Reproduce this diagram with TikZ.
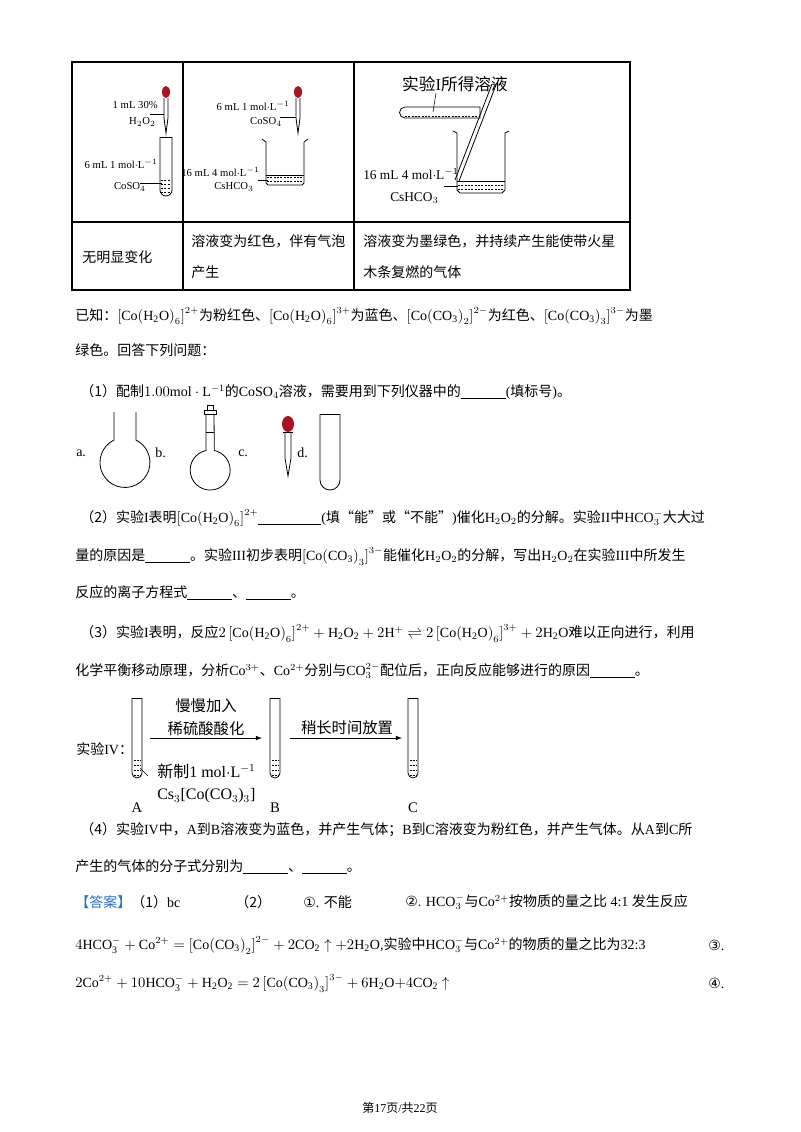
\documentclass[tikz,border=0pt]{standalone}
\usepackage{fontspec}
\setmainfont{Liberation Serif}
\newfontfamily\cjk{Noto Sans CJK SC}
\newfontfamily\dv{DejaVu Sans}
\newcommand{\zh}[1]{{\cjk #1}}
\newcommand{\cx}[2]{\left[\mathrm{Co}\!\left(\mathrm{#1}\right)_{#2}\right]}
\definecolor{bulb}{RGB}{170,20,30}
\definecolor{ans}{RGB}{40,110,200}
\begin{document}
\begin{tikzpicture}[x=0.75pt,y=-0.75pt,
  txt/.style={anchor=west,inner sep=0pt,font=\fontsize{10.5}{12}\selectfont},
  sm/.style={inner sep=0pt,font=\fontsize{8}{9}\selectfont,align=center},
  big/.style={inner sep=0pt,font=\fontsize{12}{14}\selectfont,align=left},
  glass/.style={draw,line width=0.6pt},
  liq/.style={dash pattern=on 1.5pt off 1pt,line width=0.5pt}]
\useasboundingbox (0,0) rectangle (800,1132);
\fill[white] (0,0) rectangle (800,1132);
% table
\draw[line width=0.8pt] (72,62) rectangle (630,290);
\draw[line width=0.8pt] (72,222)--(630,222) (183,62)--(183,290) (354,62)--(354,290);
% cell 1
\draw[glass] (164,98)--(164,118)--(166,133)--(168,118)--(168,98);
\fill[bulb] (166,92) ellipse (4 and 6);
\draw[glass] (160,137)--(160,190) arc (180:0:6) --(172,137);
\draw (160,137)--(172,137);
\foreach \y in {180,184,188,192} \draw[liq] (161,\y)--(171,\y);
\node[sm,anchor=east] (l1) at (158,105) {1 mL 30\%};
\node[sm,anchor=east] (l2) at (156,122) {H$_2$O$_2$};
\draw (150,114)--(164,114);
\node[sm,anchor=east] (l3) at (158,164) {6 mL 1 mol$\cdot$L$^{-1}$};
\node[sm,anchor=east] (l4) at (146,187) {CoSO$_4$};
\draw (140,183)--(162,183);
% cell 2
\draw[glass] (296,98)--(296,118)--(298,133)--(300,118)--(300,98);
\fill[bulb] (298,92) ellipse (4 and 6);
\node[sm,anchor=east] at (290,106) {6 mL 1 mol$\cdot$L$^{-1}$};
\node[sm] at (266,122) {CoSO$_4$};
\draw (280,117)--(296,117);
\draw[glass] (262,139)--(266,142)--(266,183)--(268,185)--(302,185)--(304,183)--(304,142)--(308,139);
\foreach \y in {177,181} \draw[liq] (267,\y)--(303,\y);
\draw (266,175)--(304,175);
\node[sm,anchor=east] at (260,172) {16 mL 4 mol$\cdot$L$^{-1}$};
\node[sm] at (234,187) {CsHCO$_3$};
\draw (258,180)--(268,180);
% cell 3
\node[inner sep=0pt,font=\fontsize{12.5}{14}\selectfont] at (455,84) {\zh{实验}I\zh{所得溶液}};
\draw[glass] (480,107)--(405,107) arc (-90:-270:5.5) --(480,118)--cycle;
\draw[liq] (405,116)--(478,116);
\draw (436,93)--(433,112);
\draw[glass] (453,131)--(457,133)--(457,190)--(460,193)--(502,193)--(505,190)--(505,133)--(509,131);
\draw (457,181)--(505,181);
\foreach \y in {185,189} \draw[liq] (458,\y)--(504,\y);
\draw[glass] (492,84)--(455,180) (496,85)--(459,181);
\draw (492,84)--(496,85);
\node[inner sep=0pt,anchor=west,font=\fontsize{10}{12}\selectfont] at (363,174) {16 mL 4 mol$\cdot$L$^{-1}$};
\node[inner sep=0pt,anchor=west,font=\fontsize{10}{12}\selectfont] at (390,198) {CsHCO$_3$};
\draw (444,186)--(458,186);
% row 2
\node[txt] at (82,257) {\zh{无明显变化}};
\node[txt] at (191,241) {\zh{溶液变为红色，伴有气泡}};
\node[txt] at (191,272) {\zh{产生}};
\node[txt] at (363,241) {\zh{溶液变为墨绿色，并持续产生能使带火星}};
\node[txt] at (363,272) {\zh{木条复燃的气体}};
% paragraphs
\node[txt] at (75,316) {\zh{已知：}$\cx{H_2O}{6}^{2+}$\zh{为粉红色、}$\cx{H_2O}{6}^{3+}$\zh{为蓝色、}$\cx{CO_3}{2}^{2-}$\zh{为红色、}$\cx{CO_3}{3}^{3-}$\zh{为墨}};
\node[txt] at (75,350) {\zh{绿色。回答下列问题：}};
\node[txt] at (80,392) {\zh{（1）配制}$1.00\mathrm{mol\cdot L^{-1}}$\zh{的}CoSO$_4$\zh{溶液，需要用到下列仪器中的}\underline{\hspace{3.2em}}(\zh{填标号})\zh{。}};
% apparatus
\node[txt] at (76,453) {a.};
\draw[glass] (114,412)--(114,440) arc (244:-64:25) -- (136,412);
\node[txt] at (155,453) {b.};
\draw[glass] (206,414)--(206,450.5) arc (258:-78:20) -- (214,414);
\draw[glass] (204,410) rectangle (216,414);
\draw[glass] (207,410)--(207,405)--(213,405)--(213,410);
\draw[glass] (206,432)--(214,432);
\node[txt] at (238,453) {c.};
\draw[glass] (285,432)--(285,458)--(288,476)--(291,458)--(291,432);
\fill[bulb] (288,424) ellipse (6 and 8);
\draw[glass] (283,432)--(293,432);
\node[txt] at (297,453) {d.};
\draw[glass] (320,414)--(320,480) arc (180:0:10) --(340,414);
\draw[glass] (320,414)--(340,414);
% (2)
\node[txt] at (80,518) {\zh{（2）实验}I\zh{表明}$\cx{H_2O}{6}^{2+}$\underline{\hspace{4.5em}}(\zh{填“能”或“不能”})\zh{催化}H$_2$O$_2$\zh{的分解。实验}II\zh{中}HCO$_3^-$\zh{大大过}};
\node[txt] at (75,556) {\zh{量的原因是}\underline{\hspace{3.2em}}\zh{。实验}III\zh{初步表明}$\cx{CO_3}{3}^{3-}$\zh{能催化}H$_2$O$_2$\zh{的分解，写出}H$_2$O$_2$\zh{在实验}III\zh{中所发生}};
\node[txt] at (75,593) {\zh{反应的离子方程式}\underline{\hspace{3.2em}}\zh{、}\underline{\hspace{3.2em}}\zh{。}};
% (3)
\node[txt] at (80,633) {\zh{（3）实验}I\zh{表明，反应}$2\cx{H_2O}{6}^{2+}+\mathrm{H_2O_2}+2\mathrm{H}^+\rightleftharpoons2\cx{H_2O}{6}^{3+}+2\mathrm{H_2O}$\zh{难以正向进行，利用}};
\node[txt] at (75,671) {\zh{化学平衡移动原理，分析}Co$^{3+}$\zh{、}Co$^{2+}$\zh{分别与}CO$_3^{2-}$\zh{配位后，正向反应能够进行的原因}\underline{\hspace{3.2em}}\zh{。}};
% experiment IV
\node[txt] at (76,749) {\zh{实验}IV\zh{：}};
\foreach \x/\n in {132/A,270/B,408/C}{
  \draw[glass] (\x,698)--(\x,773) arc (180:0:5) --(\x+10,698);
  \draw (\x,698)--(\x+10,698);
  \foreach \y in {760,765,770,775} \draw[liq] (\x+1.5,\y)--(\x+8.5,\y);
  \node[inner sep=0pt,font=\fontsize{11}{12}\selectfont] (t\n) at (\x+5,808) {\n};
}
\coordinate (pA) at (150,738); \coordinate (pB) at (262,738);
\coordinate (pC) at (290,738); \coordinate (pD) at (402,738);
\draw[-latex,line width=0.6pt] (pA)--(pB);
\draw[-latex,line width=0.6pt] (pC)--(pD);
\node[inner sep=0pt,font=\fontsize{11.5}{13}\selectfont] at (206,706) {\zh{慢慢加入}};
\node[inner sep=0pt,font=\fontsize{11.5}{13}\selectfont] at (206,729) {\zh{稀硫酸酸化}};
\node[inner sep=0pt,font=\fontsize{11.5}{13}\selectfont] at (347,728) {\zh{稍长时间放置}};
\node[big,anchor=west] at (157,771) {\zh{新制}1 mol$\cdot$L$^{-1}$};
\node[big,anchor=west] at (157,796) {Cs$_3$[Co(CO$_3$)$_3$]};
\draw (140,768)--(148,776);
% (4)
\node[txt] at (80,830) {\zh{（4）实验}IV\zh{中，}A\zh{到}B\zh{溶液变为蓝色，并产生气体；}B\zh{到}C\zh{溶液变为粉红色，并产生气体。从}A\zh{到}C\zh{所}};
\node[txt] at (75,867) {\zh{产生的气体的分子式分别为}\underline{\hspace{3.2em}}\zh{、}\underline{\hspace{3.2em}}\zh{。}};
% answer
\node[txt] at (75,902) {\textcolor{ans}{\zh{【答案】}}\zh{（1）}bc};
\node[txt] at (235,902) {\zh{（2）}};
\node[txt] at (303,902) {{\dv ①}. \zh{不能}};
\node[txt] at (405,902) {{\dv ②}. HCO$_3^-$\zh{与}Co$^{2+}$\zh{按物质的量之比} 4:1 \zh{发生反应}};
\node[txt] at (75,945) {$4\mathrm{HCO_3^-}+\mathrm{Co}^{2+}=\cx{CO_3}{2}^{2-}+2\mathrm{CO_2}\uparrow+2\mathrm{H_2O}$,\zh{实验中}HCO$_3^-$\zh{与}Co$^{2+}$\zh{的物质的量之比为}32:3};
\node[txt] at (708,945) {{\dv ③}.};
\node[txt] at (75,983) {$2\mathrm{Co}^{2+}+10\mathrm{HCO_3^-}+\mathrm{H_2O_2}=2\cx{CO_3}{3}^{3-}+6\mathrm{H_2O}{+}4\mathrm{CO_2}\uparrow$};
\node[txt] at (708,983) {{\dv ④}.};
\node[inner sep=0pt,font=\fontsize{9}{10}\selectfont] at (400,1108) {\zh{第}17\zh{页}/\zh{共}22\zh{页}};
\end{tikzpicture}
\end{document}
